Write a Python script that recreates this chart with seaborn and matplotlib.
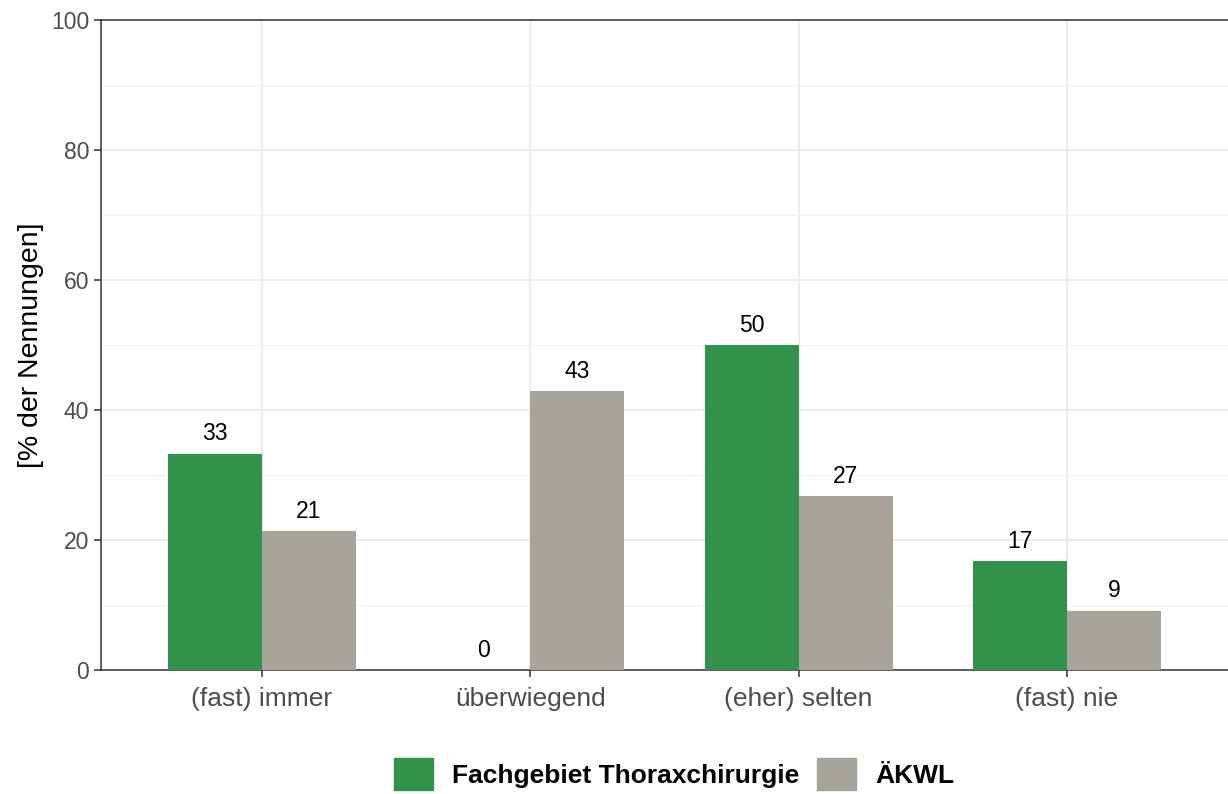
import pandas as pd
import matplotlib.pyplot as plt
import matplotlib.patches as mpatches
import seaborn as sns

# data
kategorien = ["(fast) immer", "überwiegend", "(eher) selten", "(fast) nie"]
thorax = [33.3, 0.0, 50.0, 16.7]
aekwl = [21.4, 42.9, 26.7, 9.1]
gruppen = ["Fachgebiet Thoraxchirurgie", "ÄKWL"]
farben = ["#31934A", "#A7A49C"]

df = pd.DataFrame({
    "Kategorie": kategorien * 2,
    "Gruppe": [gruppen[0]] * 4 + [gruppen[1]] * 4,
    "Wert": thorax + aekwl,
})

sns.set_style("white")
plt.rcParams["font.family"] = ["Liberation Sans", "DejaVu Sans"]

fig = plt.figure(figsize=(12.28, 7.94), dpi=100)
ax = fig.add_axes([0.0822, 0.1562, 0.9178, 0.8186])

sns.barplot(data=df, x="Kategorie", y="Wert", hue="Gruppe", order=kategorien,
            hue_order=gruppen, palette=farben, width=0.7, saturation=1,
            errorbar=None, ax=ax, legend=False, linewidth=0, zorder=3)

# value labels
for cont in ax.containers:
    ax.bar_label(cont, labels=[f"{v.get_height():.0f}" for v in cont],
                 padding=6, fontsize=16.5, color="black")

ax.set_xlim(-0.6, 3.6)
ax.set_ylim(0, 100)
ax.set_yticks([0, 20, 40, 60, 80, 100])
ax.set_yticks([10, 30, 50, 70, 90], minor=True)
ax.grid(True, which="major", color="#EBEBEB", linewidth=1.3, zorder=0)
ax.grid(True, which="minor", axis="y", color="#F2F2F2", linewidth=0.9, zorder=0)
ax.set_axisbelow(True)

for s in ["left", "bottom", "top"]:
    ax.spines[s].set_visible(True)
    ax.spines[s].set_color("#333333")
    ax.spines[s].set_linewidth(1.1)
ax.spines["right"].set_visible(False)

ax.tick_params(axis="both", which="major", length=5, width=1.1, color="#333333",
               labelcolor="#4D4D4D", left=True, bottom=True)
ax.tick_params(axis="y", which="major", labelsize=16.5)
ax.tick_params(axis="x", which="major", labelsize=19, pad=7)
ax.tick_params(axis="y", which="minor", length=0)
ax.set_xlabel("")
ax.set_ylabel("[% der Nennungen]", fontsize=20.5, color="black", labelpad=5)

handles = [mpatches.Patch(color=c, label=g) for c, g in zip(farben, gruppen)]
leg = fig.legend(handles=handles, loc="center", bbox_to_anchor=(0.549, 0.025),
                 ncol=2, frameon=False, handlelength=1.5, handleheight=1.5,
                 columnspacing=0.65, handletextpad=0.72, borderpad=0,
                 prop={"weight": "bold", "size": 19})
for t in leg.get_texts():
    t.set_color("black")

fig.savefig("out.png", dpi=100)
